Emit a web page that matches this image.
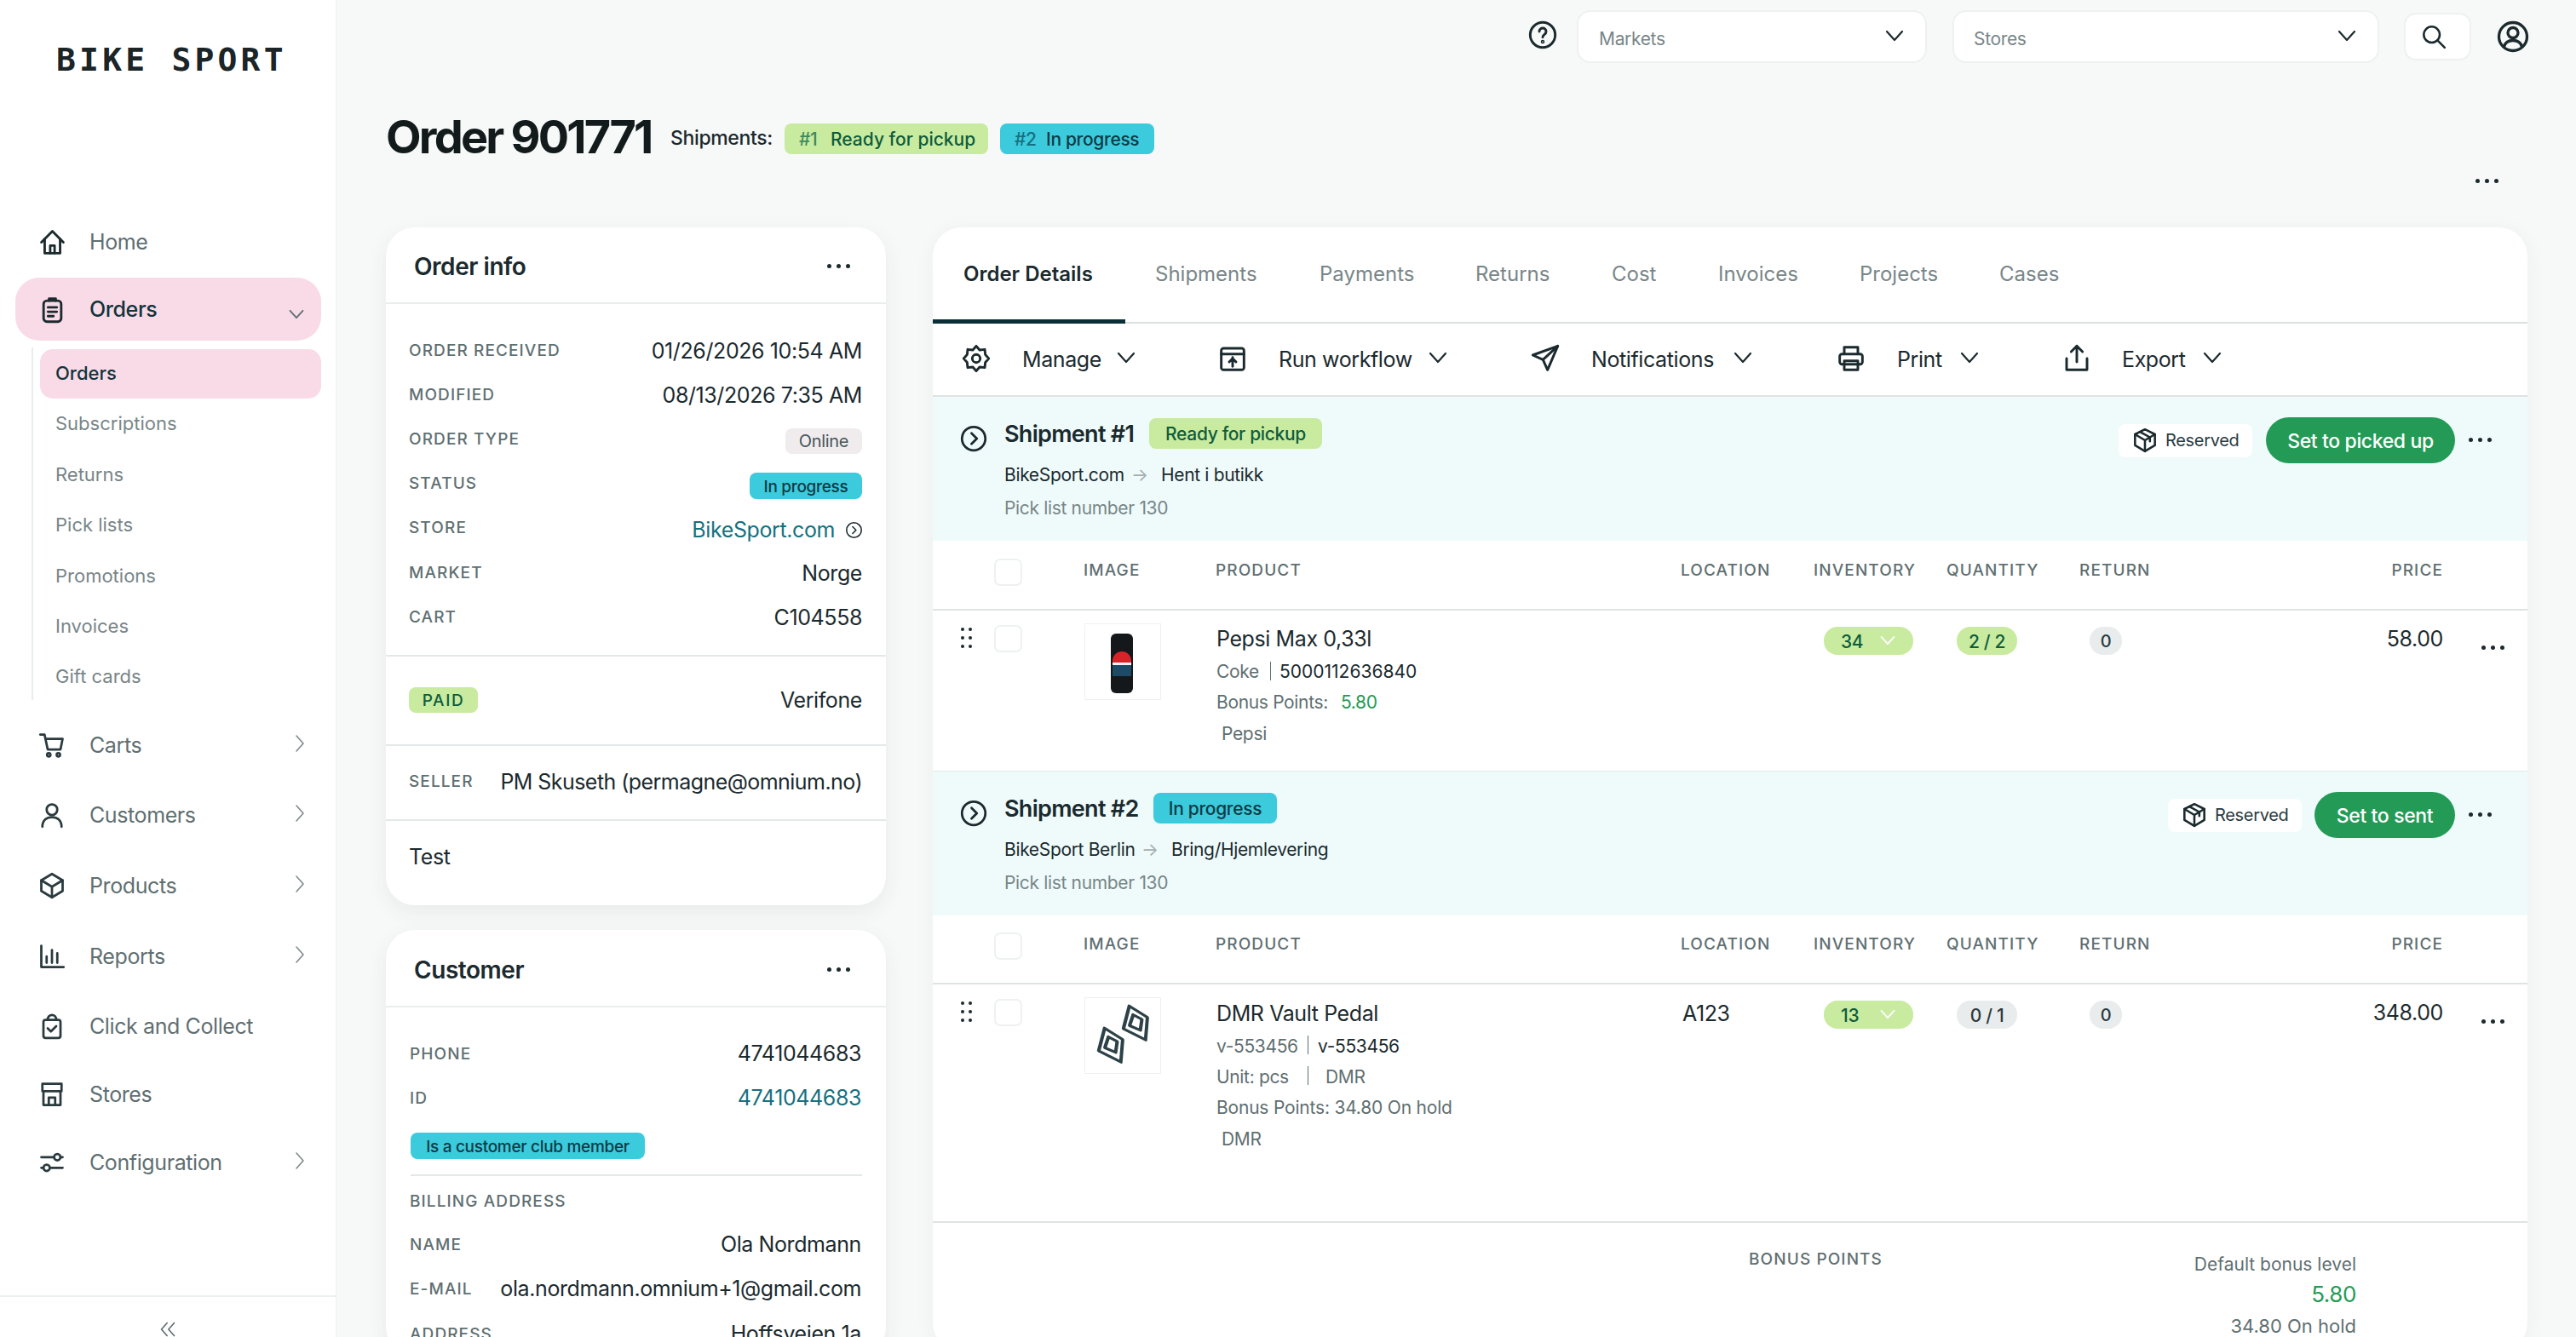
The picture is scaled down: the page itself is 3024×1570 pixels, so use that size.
<!DOCTYPE html>
<html>
<head>
<meta charset="utf-8">
<title>Order 901771</title>
<script src="https://cdn.jsdelivr.net/npm/chart.js@4"></script>
<style>
  html, body { margin: 0; padding: 0; width: 3024px; height: 1570px; overflow: hidden; background: #f7f9f8; }
  body { font-family: Inter, "Noto Sans", sans-serif; color: #1b2a2e; position: relative; }
  .t { position: absolute; white-space: nowrap; line-height: 1; transform: translateY(-50%); }
  .b { position: absolute; box-sizing: border-box; }
  svg.i { position: absolute; fill: none; stroke: #1b2a2e; stroke-width: 2.2; stroke-linecap: round; stroke-linejoin: round; overflow: visible; }
</style>
</head>
<body>
<script>
// Sidebar
const navTop = ['Home', 'Orders'];
const navSub = ['Orders', 'Subscriptions', 'Returns', 'Pick lists', 'Promotions', 'Invoices', 'Gift cards'];
const navBottom = ['Carts', 'Customers', 'Products', 'Reports', 'Click and Collect', 'Stores', 'Configuration'];

// Order info card
const orderLabels = ['ORDER RECEIVED', 'MODIFIED', 'ORDER TYPE', 'STATUS', 'STORE', 'MARKET', 'CART'];
const orderValues = ['01/26/2026 10:54 AM', '08/13/2026 7:35 AM', 'Online', 'In progress', 'BikeSport.com', 'Norge', 'C104558'];

// Customer card
const customerLabels = ['PHONE', 'ID', 'NAME', 'E-MAIL', 'ADDRESS'];
const customerValues = ['4741044683', '4741044683', 'Ola Nordmann', 'ola.nordmann.omnium+1@gmail.com', 'Hoffsveien 1a'];

// Tabs, toolbar, table
const tabs = ['Order Details', 'Shipments', 'Payments', 'Returns', 'Cost', 'Invoices', 'Projects', 'Cases'];
const actions = ['Manage', 'Run workflow', 'Notifications', 'Print', 'Export'];
const columns = ['IMAGE', 'PRODUCT', 'LOCATION', 'INVENTORY', 'QUANTITY', 'RETURN'];

// Order lines
const inventory = [34, 13];
const quantity = ['2 / 2', '0 / 1'];
const returned = [0, 0];
const prices = ['58.00', '348.00'];
const bonus = ['5.80', '34.80'];

const GREEN = '#c8eba0', CYAN = '#3ccbdc', DARKGREEN = '#0f5c3c', GREY = '#5f6f71', MUTED = '#788688', TEAL = '#16707f', LINE = '#e4e8e8';

function box(x, y, w, h, bg, radius, extra) {
    const d = document.createElement('div');
    d.className = 'b';
    d.style.cssText = `left:${x}px;top:${y}px;width:${w}px;height:${h}px;background:${bg};border-radius:${radius || 0}px;${extra || ''}`;
    document.body.appendChild(d);
    return d;
}

function text(str, x, y, size, color, opts) {
    opts = opts || {};
    const d = document.createElement('div');
    d.className = 't';
    d.textContent = str;
    const side = opts.right ? `right:${3024 - x}px` : `left:${x}px`;
    const ls = opts.ls !== undefined ? opts.ls : -0.016 * size;
    d.style.cssText = `${side};top:${y}px;font-size:${size}px;color:${color || '#1b2a2e'};font-weight:${opts.weight || 400};letter-spacing:${ls}px;`;
    if (opts.center) d.style.transform = 'translate(-50%,-50%)';
    document.body.appendChild(d);
    return d;
}

function label(str, x, y) { return text(str, x, y, 19, GREY, { ls: 1.1, weight: 500 }); }

function icon(x, y, size, body, color, sw) {
    const s = document.createElementNS('http://www.w3.org/2000/svg', 'svg');
    s.setAttribute('class', 'i');
    s.setAttribute('viewBox', '0 0 24 24');
    s.setAttribute('width', size);
    s.setAttribute('height', size);
    s.style.left = (x - size / 2) + 'px';
    s.style.top = (y - size / 2) + 'px';
    if (color) s.style.stroke = color;
    if (sw) s.style.strokeWidth = sw;
    s.innerHTML = body;
    document.body.appendChild(s);
    return s;
}

function hline(x, y, w, color, h) { box(x, y, w, h || 2, color || LINE); }
function chevDown(x, y, size, color) { icon(x, y, size || 24, '<path d="M3 7l9 10 9-10"/>', color); }
function chevRight(x, y, color) { icon(x, y, 24, '<path d="M8 3l8 9-8 9"/>', color || '#7d898b', 1.6); }
function dots(x, y) {
    [-11, 0, 11].forEach(dx => box(x + dx - 2, y - 2, 4.5, 4.5, '#1b2a2e', 3));
}
function pill(x, y, w, h, bg, str, color, size, weight, radius, ls) {
    box(x, y, w, h, bg, radius || 8);
    text(str, x + w / 2, y + h / 2, size || 20, color, { center: true, weight: weight || 500, ls: ls });
}

const icons = {
    home: '<path d="M2 12L12 2l10 10"/><path d="M5 9v13h14V9"/><path d="M10 22v-7h4v7"/>',
    orders: '<rect x="4" y="4" width="16" height="19" rx="3"/><path d="M9 4V2h6v2"/><path d="M8 10h8M8 14h8M8 18h5"/>',
    cart: '<path d="M1 2h4l3 14h12l2-10H6"/><circle cx="9" cy="21" r="1.6"/><circle cx="18" cy="21" r="1.6"/>',
    user: '<circle cx="12" cy="7" r="5"/><path d="M3 23c0-6 4-9 9-9s9 3 9 9"/>',
    box: '<path d="M12 1l10 6v10l-10 6-10-6V7z"/><path d="M2 7l10 6 10-6M12 13v10"/>',
    reports: '<path d="M2 2v20h21"/><path d="M7 18v-6M12 18V6M17 18v-9"/>',
    bag: '<rect x="4" y="6" width="16" height="17" rx="2"/><path d="M8 6c0-6 8-6 8 0"/><path d="M8 14l3 3 5-5"/>',
    store: '<path d="M3 2h18v7H3z"/><path d="M4 9v13h16V9"/><path d="M9 22v-7h6v7"/>',
    config: '<path d="M2 7h12M20 7h2M2 17h2M10 17h12"/><circle cx="17" cy="7" r="3"/><circle cx="7" cy="17" r="3"/>',
    gear: '<circle cx="12" cy="12" r="3.5"/><path d="M12 1l3 3.500 4.500-.5.500 4.500L23 12l-3 3.500-.5 4.500-4.500-.5L12 23l-3-3.500-4.500.5-.5-4.500L1 12l3-3.500.5-4.500 4.500.5z"/>',
    workflow: '<rect x="2" y="3" width="20" height="19" rx="2"/><path d="M2 8h20M12 11v8M9 15l3-3 3 3"/>',
    send: '<path d="M23 1L1 9l9 4 4 9z"/><path d="M23 1L10 13"/>',
    print: '<path d="M6 8V2h12v6"/><rect x="2" y="8" width="20" height="9" rx="2"/><path d="M6 14h12v8H6z"/>',
    share: '<path d="M12 15V1M7 6l5-5 5 5"/><path d="M3 12v10h18V12"/>',
    circleArrow: '<circle cx="12" cy="12" r="11"/><path d="M10 7l5 5-5 5"/>',
    parcel: '<path d="M12 1l10 5v11l-10 6-10-6V6z"/><path d="M2 6l10 6 10-6M12 12v11M7 3.500l10 5.500v4"/>',
    help: '<circle cx="12" cy="12" r="11"/><path d="M9 9c0-4 6-4 6 0 0 3-3 2.500-3 5"/><circle cx="12" cy="18" r=".6"/>',
    search: '<circle cx="10" cy="10" r="8"/><path d="M16 16l7 7"/>',
    account: '<circle cx="12" cy="12" r="11"/><circle cx="12" cy="9" r="4"/><path d="M5 20c1-4 4-5 7-5s6 1 7 5"/>'
};

// ---- sidebar ----
box(0, 0, 395, 1570, '#ffffff', 0, 'border-right:1px solid #eef1f1;');
text('BIKE SPORT', 66, 70, 38, '#1b2426', { weight: 700, ls: 4.2 }).style.fontFamily = '"DejaVu Sans Mono", monospace';

box(18, 326, 359, 74, '#f9dbe8', 28);
box(47, 410, 330, 58, '#f9dbe8', 15);
box(37, 408, 2, 414, '#e9ecec');

const navTopY = [284, 363];
const navTopIcons = ['home', 'orders'];
navTop.forEach((n, i) => {
    text(n, 105, navTopY[i], 25, i === 1 ? '#11343b' : GREY, { weight: i === 1 ? 500 : 400 });
    icon(61, navTopY[i], 31, icons[navTopIcons[i]]);
});
chevDown(348, 369, 20, '#5f6f71');

const navSubY = [438, 497, 557, 616, 676, 735, 794];
navSub.forEach((n, i) => text(n, 65, navSubY[i], 22, i === 0 ? '#11343b' : MUTED, { weight: i === 0 ? 500 : 400, ls: 0 }));

const navBottomY = [875, 957, 1040, 1123, 1205, 1285, 1365];
const navBottomIcons = ['cart', 'user', 'box', 'reports', 'bag', 'store', 'config'];
const navHasChevron = [1, 1, 1, 1, 0, 0, 1];
navBottom.forEach((n, i) => {
    text(n, 105, navBottomY[i], 25, GREY);
    icon(61, navBottomY[i], 30, icons[navBottomIcons[i]], '#2a3b3f');
    if (navHasChevron[i]) chevRight(352, navBottomY[i] - 2);
});
hline(0, 1521, 395, '#eceff0');
icon(197, 1561, 20, '<path d="M11 3l-8 9 8 9M21 3l-8 9 8 9"/>', '#5f6f71', 2);

// ---- top bar ----
icon(1811, 41, 32, icons.help);
box(1851, 12, 411, 62, '#fff', 16, 'border:2px solid #eef1f1;');
text('Markets', 1877, 45, 21, MUTED);
chevDown(2224, 42, 24);
box(2292, 12, 501, 62, '#fff', 16, 'border:2px solid #eef1f1;');
text('Stores', 2317, 45, 21, MUTED);
chevDown(2755, 42, 24);
box(2822, 15, 79, 56, '#fff', 14, 'border:2px solid #eef1f1;');
icon(2857, 43, 28, icons.search);
icon(2950, 43, 36, icons.account);

// ---- title ----
text('Order 901771', 453, 161, 54, '#121a1c', { weight: 700, ls: -2.8 });
text('Shipments:', 787, 162, 23, '#1b2a2e', { weight: 500 });
box(921, 145, 239, 36, GREEN, 8);
text('#1', 938, 163, 21, '#3f8a5c', { weight: 500 });
text('Ready for pickup', 975, 163, 21, DARKGREEN, { weight: 500, ls: 0 });
box(1174, 145, 181, 36, CYAN, 8);
text('#2', 1191, 163, 21, '#16707f', { weight: 500 });
text('In progress', 1228, 163, 21, '#0d3b46', { weight: 500 });
dots(2919, 212);

// ---- order info card ----
box(453, 267, 587, 796, '#fff', 34, 'box-shadow:0 8px 24px rgba(30,60,60,.07);');
text('Order info', 486, 313, 28, '#1b2a2e', { weight: 600 });
dots(984, 312);
hline(453, 355, 587, '#eaeded');
const orderY = [411, 463, 515, 567, 619, 672, 724];
orderLabels.forEach((l, i) => {
    label(l, 480, orderY[i]);
    if (i < 2 || i > 4) text(orderValues[i], 1012, orderY[i] + 1, 25, '#1b2a2e', { right: true });
});
pill(922, 503, 90, 30, '#f0ecee', orderValues[2], '#475659', 20, 400);
pill(880, 555, 132, 31, CYAN, orderValues[3], '#0d3b46', 19, 500);
text(orderValues[4], 980, 622, 25, TEAL, { right: true });
icon(1002, 622, 19, icons.circleArrow, '#1b2a2e', 2);
hline(453, 769, 587);
pill(480, 807, 81, 30, GREEN, 'PAID', DARKGREEN, 19, 500, 8, 1.6);
text('Verifone', 1012, 822, 25, '#1b2a2e', { right: true });
hline(453, 874, 587);
label('SELLER', 480, 917);
text('PM Skuseth (permagne@omnium.no)', 1012, 918, 25, '#1b2a2e', { right: true, ls: -0.55 });
hline(453, 962, 587);
text('Test', 480, 1006, 25);

// ---- customer card ----
box(453, 1092, 587, 500, '#fff', 34, 'box-shadow:0 8px 24px rgba(30,60,60,.07);');
text('Customer', 486, 1139, 28, '#1b2a2e', { weight: 600 });
dots(984, 1138);
hline(453, 1181, 587, '#eaeded');
const customerY = [1237, 1289, 1461, 1513, 1566];
customerLabels.forEach((l, i) => {
    label(l, 481, customerY[i]);
    text(customerValues[i], 1011, customerY[i], 25, i === 1 ? TEAL : '#1b2a2e', { right: true });
});
pill(482, 1330, 275, 31, CYAN, 'Is a customer club member', '#0d3b46', 19, 500);
hline(482, 1379, 530);
label('BILLING ADDRESS', 481, 1410);

// ---- main card ----
box(1095, 267, 1872, 1320, '#fff', 34, 'box-shadow:0 4px 24px rgba(30,60,60,.05);');
const tabX = [1131, 1356, 1549, 1732, 1892, 2017, 2183, 2347];
tabs.forEach((n, i) => text(n, tabX[i], 322, 24, i === 0 ? '#1b2a2e' : MUTED, { weight: i === 0 ? 600 : 400, ls: 0 }));
hline(1095, 378, 1872, '#dcdfe0');
box(1095, 375, 226, 5, '#0b2f36');

const actionIcons = ['gear', 'workflow', 'send', 'print', 'share'];
const actionIconX = [1146, 1447, 1814, 2173, 2438];
const actionTextX = [1200, 1501, 1868, 2227, 2491];
const actionChevX = [1322, 1688, 2046, 2312, 2597];
actions.forEach((n, i) => {
    icon(actionIconX[i], 421, 32, icons[actionIcons[i]]);
    text(n, actionTextX[i], 422, 25, '#1b2a2e');
    chevDown(actionChevX[i], 420, 24);
});
hline(1095, 464, 1872, '#dfe3e3');

function shipment(top, title, badge, badgeBg, badgeColor, badgeX, badgeW, from, to, toX, resX, btn, btnX) {
    box(1095, top, 1872, 169, '#effbfb');
    icon(1143, top + 49, 30, icons.circleArrow);
    text(title, 1179, top + 43, 27, '#1b2a2e', { weight: 600, ls: -0.7 });
    pill(badgeX, top + 25, badgeW, 36, badgeBg, badge, badgeColor, 21, 500);
    box(resX, top + 32, 157, 39, '#fff', 8);
    icon(resX + 31, top + 51, 28, icons.parcel);
    text('Reserved', resX + 55, top + 51, 20, '#2a3b3f');
    box(btnX, top + 24, 2882 - btnX, 54, '#239b56', 27);
    text(btn, (btnX + 2882) / 2, top + 52, 23, '#fff', { center: true, weight: 500 });
    dots(2911, top + 50);
    text(from, 1179, top + 91, 21, '#1b2a2e');
    text('→', toX - 35, top + 91, 21, '#a4aeaf');
    text(to, toX, top + 91, 21, '#1b2a2e');
    text('Pick list number 130', 1179, top + 130, 21, MUTED);
}

function tableHead(y) {
    box(1167, y - 12, 33, 32, '#fff', 7, 'border:2px solid #eef1f1;');
    const colX = [1272, 1427, 1973, 2129, 2285, 2441];
    columns.forEach((c, i) => label(c, colX[i], y + 1));
    text('PRICE', 2868, y + 1, 19, GREY, { right: true, ls: 1.1, weight: 500 });
    hline(1095, y + 47, 1872, '#dfe3e3');
}

function rowBase(y, i, qtyBg) {
    [0, 10, 20].forEach(dy => { box(1128, y + dy, 4, 4, '#1b2a2e', 2); box(1137, y + dy, 4, 4, '#1b2a2e', 2); });
    box(1167, y - 3, 33, 32, '#fff', 7, 'border:2px solid #eef1f1;');
    box(1273, y - 5, 90, 90, '#fff', 0, 'border:1px solid #eef1f1;');
    box(2141, y - 1, 105, 33, GREEN, 16);
    text(String(inventory[i]), 2161, y + 16, 21, DARKGREEN, { weight: 500 });
    chevDown(2216, y + 15, 20, '#fff');
    pill(2297, y - 1, 71, 33, qtyBg, quantity[i], qtyBg === GREEN ? DARKGREEN : '#2a3b3f', 21, 500, 16);
    pill(2453, y - 1, 38, 33, '#e9ecec', String(returned[i]), '#2a3b3f', 20, 500, 16);
    text(prices[i], 2868, y + 13, 25, '#1b2a2e', { right: true });
    dots(2926, y + 23);
}

// shipment 1
shipment(466, 'Shipment #1', 'Ready for pickup', GREEN, DARKGREEN, 1349, 203, 'BikeSport.com', 'Hent i butikk', 1363, 2487, 'Set to picked up', 2660);
tableHead(668);
rowBase(737, 0, GREEN);
text('Pepsi Max 0,33l', 1428, 750, 25, '#1b2a2e');
text('Coke', 1428, 788, 21, GREY);
box(1491, 777, 1, 22, '#5f6f71');
text('5000112636840', 1502, 788, 21, '#1b2a2e', { ls: 0 });
text('Bonus Points:', 1428, 824, 21, GREY);
text(bonus[0], 1574, 824, 21, '#239b56');
text('Pepsi', 1434, 861, 21, GREY);
// can
box(1304, 744, 26, 70, '#14181a', 6);
box(1306, 765, 22, 13, '#d8232a', '11px 11px 0 0');
box(1306, 778, 22, 3, '#f2f2f2');
box(1306, 781, 22, 13, '#1d4a66', '0 0 11px 11px');
hline(1095, 905, 1872, '#e4eaea');

// shipment 2
shipment(906, 'Shipment #2', 'In progress', CYAN, '#0d3b46', 1354, 145, 'BikeSport Berlin', 'Bring/Hjemlevering', 1375, 2545, 'Set to sent', 2717);
tableHead(1107);
rowBase(1176, 1, '#e9ecec');
text('DMR Vault Pedal', 1428, 1190, 25, '#1b2a2e');
text('A123', 1975, 1190, 25, '#1b2a2e');
text('v-553456', 1428, 1228, 21, GREY);
box(1535, 1216, 1, 22, '#5f6f71');
text('v-553456', 1547, 1228, 21, '#1b2a2e');
text('Unit: pcs', 1428, 1264, 21, GREY);
box(1535, 1252, 1, 22, '#5f6f71');
text('DMR', 1556, 1264, 21, GREY);
text('Bonus Points: ' + bonus[1] + ' On hold', 1428, 1300, 21, GREY, { ls: -0.2 });
text('DMR', 1434, 1337, 21, GREY);
// pedals
const pedal = '<path d="M3 7L21 2l1 13L6 22z"/><path d="M8 9l9-2 1 6-8 3z"/>';
icon(1334, 1203, 46, pedal, '#2d4248', 2.2).style.transform = 'rotate(-55deg) scaleX(.75)';
icon(1305, 1229, 46, pedal, '#2d4248', 2.2).style.transform = 'rotate(-55deg) scaleX(.75)';
hline(1095, 1434, 1872, '#dfe3e3');

// ---- totals ----
label('BONUS POINTS', 2053, 1478);
text('Default bonus level', 2766, 1484, 21, GREY, { right: true, ls: 0 });
text(bonus[0], 2766, 1520, 26, '#239b56', { right: true });
text(bonus[1] + ' On hold', 2766, 1557, 22, GREY, { right: true, ls: 0 });
</script>
</body>
</html>
